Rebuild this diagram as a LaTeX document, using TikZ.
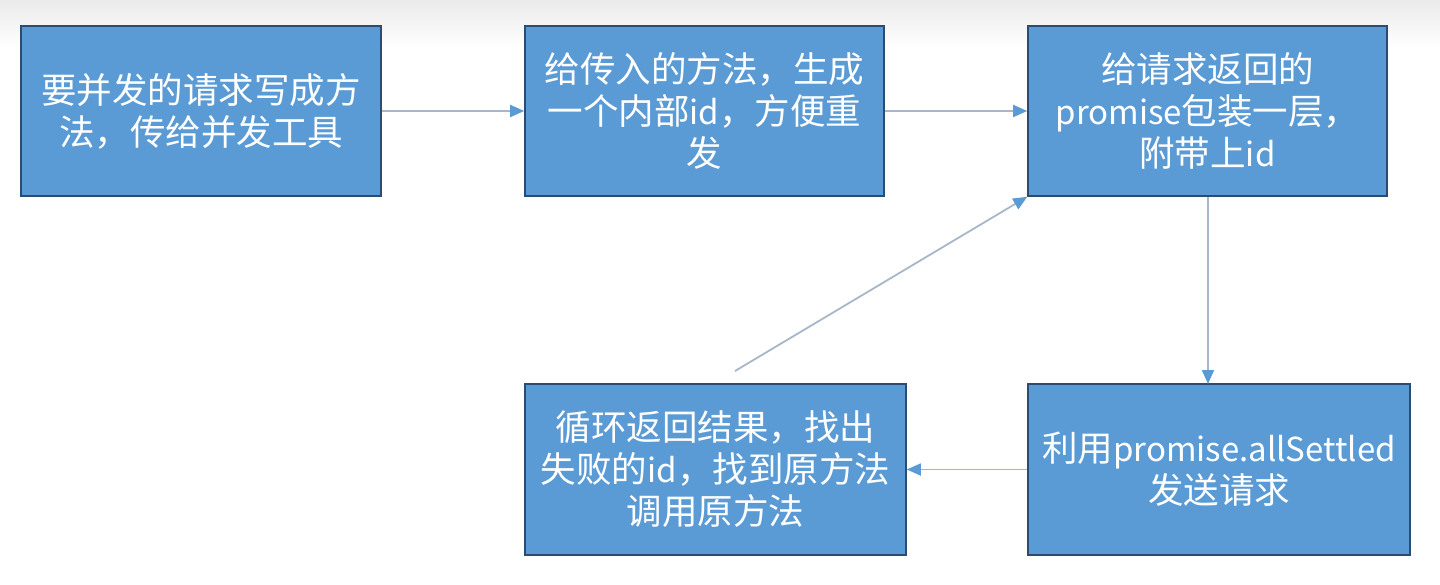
\documentclass[tikz,border=0pt]{standalone}
\usepackage{fontspec}
\setmainfont{Noto Sans CJK SC}
\newfontfamily\latn{Noto Sans CJK SC}[Scale=0.93]
\usetikzlibrary{arrows.meta}
\definecolor{boxfill}{HTML}{5B9BD5}
\definecolor{boxline}{HTML}{2B4C70}
\definecolor{conline}{HTML}{A7B6C8}
\definecolor{tipcol}{HTML}{5B9BD5}
\tikzset{
  stepbox/.style={draw=boxline, line width=1.6pt, fill=boxfill, text=white,
    align=center, inner sep=0pt,
    font=\fontsize{35.5pt}{42pt}\selectfont},
  conn/.style={draw=conline, line width=1.8pt,
    -{Triangle[length=14pt,width=12pt,color=tipcol]}},
}
\begin{document}
\begin{tikzpicture}[x=1pt,y=-1pt]
\useasboundingbox (0,0) rectangle (1440,585);
\shade[top color=black!8, bottom color=white] (0,0) rectangle (1440,48);
\node[stepbox, minimum width=360pt, minimum height=170pt] (b1) at (201,111)
  {要并发的请求写成方\\法，传给并发工具};
\node[stepbox, minimum width=359pt, minimum height=170pt] (b2) at (704.5,111)
  {给传入的方法，生成\\一个内部{\latn id}，方便重\\发};
\node[stepbox, minimum width=359pt, minimum height=170pt] (b3) at (1207.5,111)
  {给请求返回的\\{\latn promise}包装一层，\\附带上{\latn id}};
\node[stepbox, minimum width=382pt, minimum height=171pt] (b4) at (1219,469.5)
  {利用{\latn promise.allSettled}\\发送请求};
\node[stepbox, minimum width=381pt, minimum height=171pt] (b5) at (715.5,469.5)
  {循环返回结果，找出\\失败的{\latn id}，找到原方法\\调用原方法};
\coordinate (loopstart) at (735,371);
\coordinate (b4top) at (1208,384);
\draw[conn] (b1.east) -- (b2.west);
\draw[conn] (b2.east) -- (b3.west);
\draw[conn] (b3.south -| b4top) -- (b4top);
\draw[conn] (b4.west) -- (b5.east);
\draw[conn] (loopstart) -- (b3.south west);
\end{tikzpicture}
\end{document}
